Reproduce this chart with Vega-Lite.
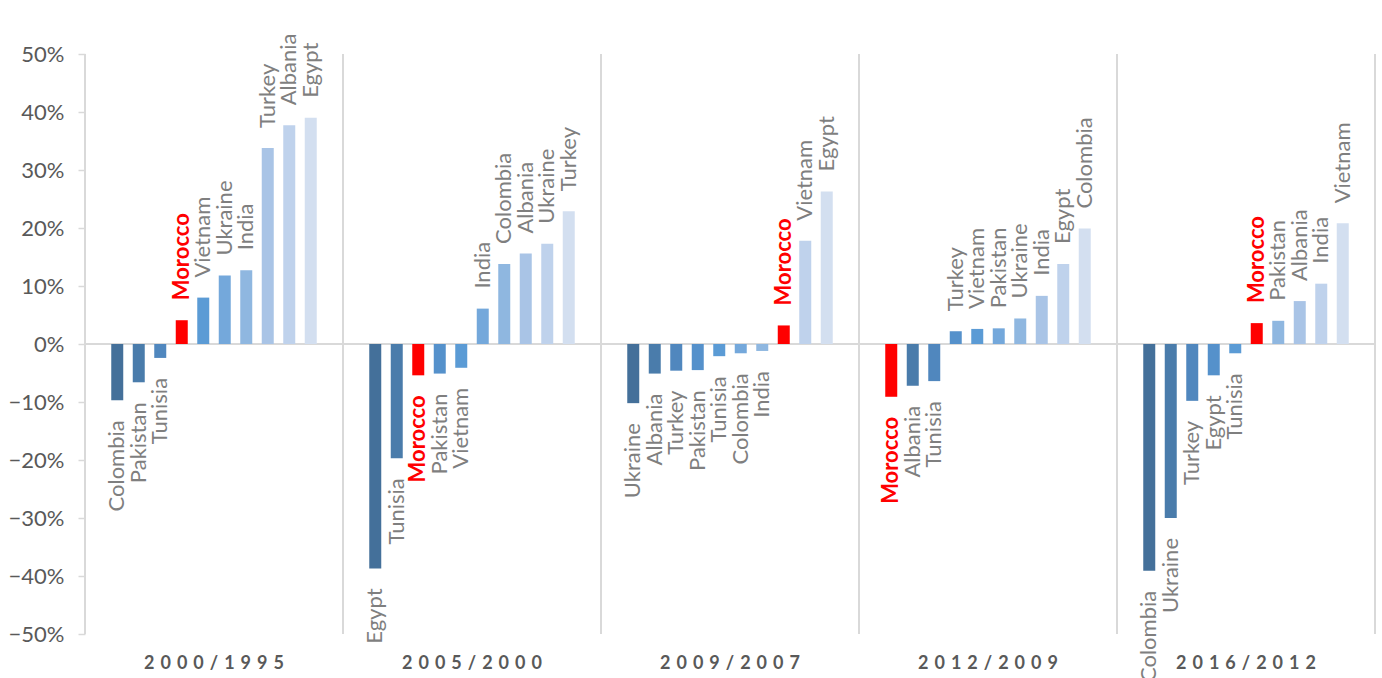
{
  "$schema": "https://vega.github.io/schema/vega-lite/v6.json",
  "padding": {"left": 8, "top": 33, "right": 5, "bottom": 5},
  "bounds": "flush",
  "background": "white",
  "config": {"view": {"stroke": null}, "font": "Lato"},
  "data": {"values": [
    {"period": "2000/1995", "country": "Colombia", "value": -0.097},
    {"period": "2000/1995", "country": "Pakistan", "value": -0.066},
    {"period": "2000/1995", "country": "Tunisia", "value": -0.024},
    {"period": "2000/1995", "country": "Morocco", "value": 0.041},
    {"period": "2000/1995", "country": "Vietnam", "value": 0.080},
    {"period": "2000/1995", "country": "Ukraine", "value": 0.118},
    {"period": "2000/1995", "country": "India", "value": 0.127},
    {"period": "2000/1995", "country": "Turkey", "value": 0.338},
    {"period": "2000/1995", "country": "Albania", "value": 0.377},
    {"period": "2000/1995", "country": "Egypt", "value": 0.390},
    {"period": "2005/2000", "country": "Egypt", "value": -0.387},
    {"period": "2005/2000", "country": "Tunisia", "value": -0.197},
    {"period": "2005/2000", "country": "Morocco", "value": -0.054},
    {"period": "2005/2000", "country": "Pakistan", "value": -0.051},
    {"period": "2005/2000", "country": "Vietnam", "value": -0.041},
    {"period": "2005/2000", "country": "India", "value": 0.061},
    {"period": "2005/2000", "country": "Colombia", "value": 0.138},
    {"period": "2005/2000", "country": "Albania", "value": 0.156},
    {"period": "2005/2000", "country": "Ukraine", "value": 0.173},
    {"period": "2005/2000", "country": "Turkey", "value": 0.229},
    {"period": "2009/2007", "country": "Ukraine", "value": -0.102},
    {"period": "2009/2007", "country": "Albania", "value": -0.051},
    {"period": "2009/2007", "country": "Turkey", "value": -0.046},
    {"period": "2009/2007", "country": "Pakistan", "value": -0.045},
    {"period": "2009/2007", "country": "Tunisia", "value": -0.021},
    {"period": "2009/2007", "country": "Colombia", "value": -0.016},
    {"period": "2009/2007", "country": "India", "value": -0.012},
    {"period": "2009/2007", "country": "Morocco", "value": 0.032},
    {"period": "2009/2007", "country": "Vietnam", "value": 0.178},
    {"period": "2009/2007", "country": "Egypt", "value": 0.263},
    {"period": "2012/2009", "country": "Morocco", "value": -0.091},
    {"period": "2012/2009", "country": "Albania", "value": -0.072},
    {"period": "2012/2009", "country": "Tunisia", "value": -0.064},
    {"period": "2012/2009", "country": "Turkey", "value": 0.022},
    {"period": "2012/2009", "country": "Vietnam", "value": 0.026},
    {"period": "2012/2009", "country": "Pakistan", "value": 0.027},
    {"period": "2012/2009", "country": "Ukraine", "value": 0.044},
    {"period": "2012/2009", "country": "India", "value": 0.083},
    {"period": "2012/2009", "country": "Egypt", "value": 0.138},
    {"period": "2012/2009", "country": "Colombia", "value": 0.199},
    {"period": "2016/2012", "country": "Colombia", "value": -0.391},
    {"period": "2016/2012", "country": "Ukraine", "value": -0.300},
    {"period": "2016/2012", "country": "Turkey", "value": -0.098},
    {"period": "2016/2012", "country": "Egypt", "value": -0.054},
    {"period": "2016/2012", "country": "Tunisia", "value": -0.016},
    {"period": "2016/2012", "country": "Morocco", "value": 0.036},
    {"period": "2016/2012", "country": "Pakistan", "value": 0.040},
    {"period": "2016/2012", "country": "Albania", "value": 0.074},
    {"period": "2016/2012", "country": "India", "value": 0.104},
    {"period": "2016/2012", "country": "Vietnam", "value": 0.208}
  ]},
  "transform": [
    {"window": [{"op": "row_number", "as": "rank"}], "groupby": ["period"], "sort": [{"field": "value", "order": "ascending"}]}
  ],
  "facet": {
    "column": {
      "field": "period", "type": "ordinal", "title": null,
      "header": {
        "labelOrient": "bottom",
        "labelFont": "Lato",
        "labelFontSize": 18,
        "labelFontWeight": "bold",
        "labelColor": "#595959",
        "labelPadding": 21,
        "labelExpr": "join(split(datum.label, ''), '\u2004')"
      }
    }
  },
  "spacing": 0,
  "spec": {
    "width": 258,
    "height": 580,
    "encoding": {
      "x": {"field": "rank", "type": "quantitative", "axis": null, "scale": {"domain": [-0.5, 11.5], "nice": false, "zero": false, "padding": 0}},
      "y": {"field": "value", "type": "quantitative", "stack": null, "scale": {"domain": [-0.5, 0.5], "nice": false},
        "axis": {"title": null, "format": ".0%", "values": [-0.5, -0.4, -0.3, -0.2, -0.1, 0, 0.1, 0.2, 0.3, 0.4, 0.5],
          "grid": false, "domain": false, "tickColor": "#d9d9d9", "tickSize": 7, "tickWidth": 1.5,
          "labelFont": "Lato", "labelFontSize": 22, "labelColor": "#595959", "labelPadding": 14}}
    },
    "layer": [
      {
        "mark": {"type": "rule", "color": "#d9d9d9", "strokeWidth": 1.5},
        "encoding": {"x": null, "y": {"datum": 0, "type": "quantitative"}}
      },
      {
        "mark": {"type": "rule", "color": "#d9d9d9", "strokeWidth": 1.5},
        "encoding": {"x": {"datum": -0.5, "type": "quantitative"}, "y": null}
      },
      {
        "mark": {"type": "rule", "color": "#d9d9d9", "strokeWidth": 1.5},
        "encoding": {"x": {"datum": 11.5, "type": "quantitative"}, "y": null}
      },
      {
        "mark": {"type": "bar", "orient": "vertical", "width": 12},
        "encoding": {
          "y2": {"datum": 0},
          "color": {
            "condition": {"test": "datum.country === 'Morocco'", "value": "#ff0000"},
            "field": "rank", "type": "ordinal", "legend": null,
            "scale": {"domain": [1, 2, 3, 4, 5, 6, 7, 8, 9, 10],
              "range": ["#44709a", "#4a7cab", "#5087be", "#5591cb", "#5b9bd5", "#74a8db", "#8fb7e0", "#a9c4e6", "#bfd2ec", "#d3dff0"]}
          }
        }
      },
      {
        "transform": [{"filter": "datum.value >= 0 && datum.country !== 'Morocco'"}],
        "mark": {"type": "text", "angle": 270, "align": "left", "baseline": "middle", "dx": 20, "font": "Lato", "fontSize": 22, "color": "#7f7f7f"},
        "encoding": {"text": {"field": "country"}}
      },
      {
        "transform": [{"filter": "datum.value < 0 && datum.country !== 'Morocco'"}],
        "mark": {"type": "text", "angle": 270, "align": "right", "baseline": "middle", "dx": -20, "font": "Lato", "fontSize": 22, "color": "#7f7f7f"},
        "encoding": {"text": {"field": "country"}}
      },
      {
        "transform": [{"filter": "datum.value >= 0 && datum.country === 'Morocco'"}],
        "mark": {"type": "text", "angle": 270, "align": "left", "baseline": "middle", "dx": 20, "font": "Lato", "fontSize": 22, "fontWeight": "bold", "color": "#ff0000"},
        "encoding": {"text": {"field": "country"}}
      },
      {
        "transform": [{"filter": "datum.value < 0 && datum.country === 'Morocco'"}],
        "mark": {"type": "text", "angle": 270, "align": "right", "baseline": "middle", "dx": -20, "font": "Lato", "fontSize": 22, "fontWeight": "bold", "color": "#ff0000"},
        "encoding": {"text": {"field": "country"}}
      }
    ]
  }
}
